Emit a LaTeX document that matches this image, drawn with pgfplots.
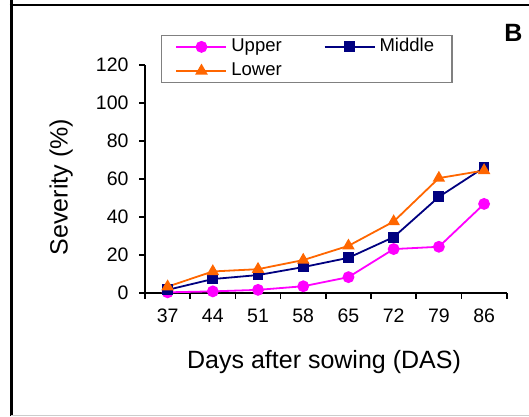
\documentclass[border=0pt]{standalone}
\usepackage{fontspec}
\setmainfont{Liberation Sans}
\usepackage{pgfplots}
\pgfplotsset{compat=1.18}
\definecolor{cUpper}{HTML}{FF00FF}
\definecolor{cMiddle}{HTML}{000080}
\definecolor{cLower}{HTML}{FF6600}

\begin{document}
\begin{tikzpicture}[x=1pt,y=1pt]
\useasboundingbox (0,0) rectangle (529,416);
% outer frame
\draw[line width=3pt] (11,416) -- (11,0);
\draw[line width=2.5pt] (9.5,411) -- (529,411);
\draw[gray!40,line width=1pt] (11,0.5) -- (529,0.5);
\node[font=\fontsize{25}{25}\selectfont\bfseries] at (513.5,383) {B};

\begin{axis}[
  at={(145pt,123.3pt)}, anchor=south west,
  scale only axis, width=361.7pt, height=227.7pt,
  xmin=-0.5, xmax=7.5, ymin=0, ymax=120,
  axis lines*=left, axis line style={line width=1.6pt, -},
  xtick={-0.5,0.5,...,7.5}, xticklabels={},
  extra x ticks={0,...,7},
  extra x tick labels={37,44,51,58,65,72,79,86},
  extra x tick style={major tick length=0pt},
  ytick={0,20,...,120},
  tick align=outside, major tick length=6pt,
  tick style={line width=1.6pt, black},
  ticklabel style={font=\fontsize{19.5}{19.5}\selectfont},
  /pgf/number format/assume math mode=true,
  xticklabel style={yshift=-13pt},
  yticklabel style={xshift=-7pt},
  xlabel={Days after sowing (DAS)},
  ylabel={Severity (\%)},
  xlabel style={font=\fontsize{25}{25}\selectfont, at={(axis description cs:0.495,-0.304)}, anchor=center},
  ylabel style={font=\fontsize{25}{25}\selectfont, at={(axis description cs:-0.232,0.464)}, anchor=center},
  clip=false,
  every axis plot/.append style={line width=1.8pt},
  legend columns=2,
  legend cell align=left,
  legend style={at={(0.0442,1.1318)}, anchor=north west, draw=gray, line width=1.2pt,
    font=\fontsize{18.5}{18.5}\selectfont, inner xsep=14pt, inner ysep=1.8pt, row sep=5pt,
    nodes={inner xsep=4pt, inner ysep=1pt, text height=13pt, text depth=4pt},
    /tikz/column 2/.style={column sep=38pt}},
  legend image code/.code={
    \draw[mark repeat=2,mark phase=2,#1] plot coordinates {(0pt,0pt) (25pt,0pt) (50pt,0pt)};
  },
]
\addplot[color=cUpper, mark=*, mark size=5pt] coordinates {
 (0,0.2) (1,0.7) (2,1.5) (3,3.4) (4,8.2) (5,23.0) (6,24.2) (7,46.8)};
\addlegendentry{Upper}
\addplot[color=cMiddle, mark=square*, mark size=4.5pt] coordinates {
 (0,1.5) (1,7.2) (2,9.3) (3,13.5) (4,18.4) (5,29.3) (6,50.5) (7,66.0)};
\addlegendentry{Middle}
\addplot[color=cLower, mark=triangle*, mark size=5.5pt] coordinates {
 (0,3.2) (1,11.2) (2,12.4) (3,17.2) (4,24.7) (5,37.5) (6,60.4) (7,64.4)};
\addlegendentry{Lower}
\end{axis}
\end{tikzpicture}
\end{document}
